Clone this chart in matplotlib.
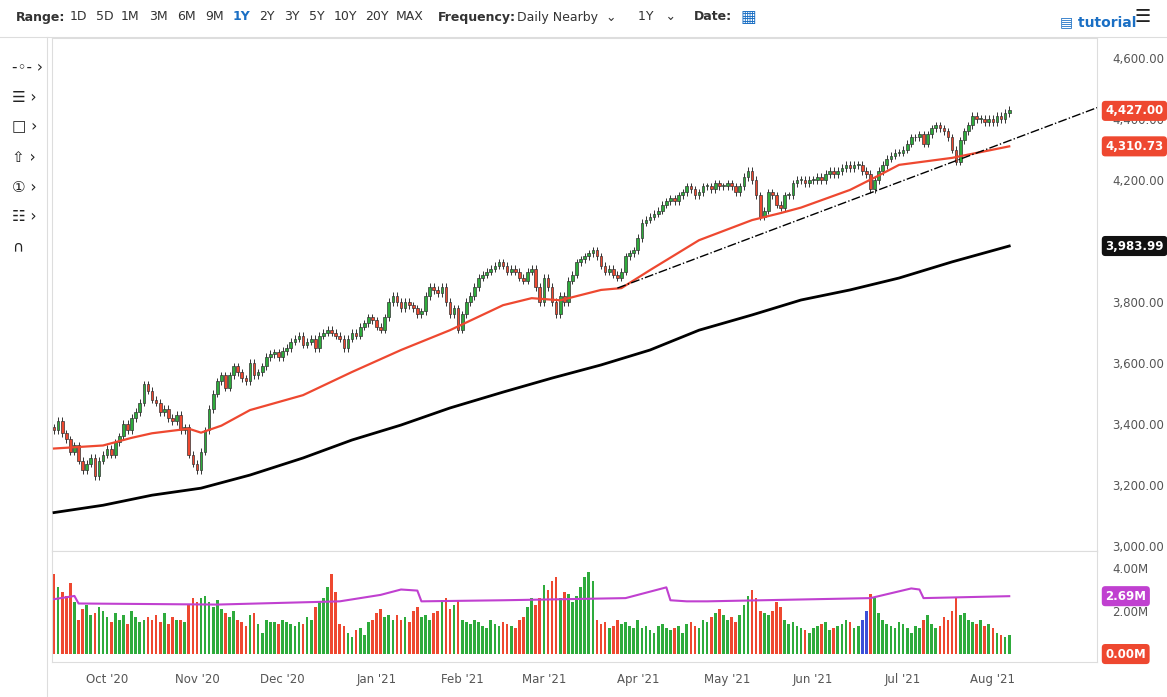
import matplotlib.pyplot as plt
import numpy as np
import pandas as pd

# daily closes per month
close_by_month = {
    "2020-09": [3380, 3410, 3370, 3350, 3310, 3330, 3280, 3250, 3270, 3290, 3230, 3280, 3300],
    "2020-10": [3320, 3300, 3340, 3360, 3400, 3380, 3420, 3440, 3470, 3530, 3510, 3480, 3470, 3440,
                3450, 3420, 3410, 3430, 3380, 3390, 3300, 3270],
    "2020-11": [3250, 3310, 3380, 3450, 3500, 3540, 3560, 3520, 3560, 3590, 3570, 3550, 3540, 3600,
                3560, 3570, 3590, 3620, 3630, 3635, 3620],
    "2020-12": [3640, 3650, 3670, 3680, 3690, 3660, 3670, 3680, 3650, 3690, 3700, 3710, 3700, 3690,
                3680, 3650, 3680, 3700, 3690, 3720, 3730, 3750, 3740],
    "2021-01": [3720, 3710, 3750, 3800, 3820, 3800, 3780, 3800, 3790, 3780, 3760, 3770, 3820, 3850,
                3840, 3830, 3850, 3800, 3760, 3780, 3710],
    "2021-02": [3760, 3800, 3820, 3850, 3880, 3890, 3900, 3910, 3920, 3930, 3920, 3900, 3910, 3900,
                3880, 3870, 3900, 3910, 3850, 3800],
    "2021-03": [3880, 3850, 3800, 3760, 3820, 3800, 3870, 3890, 3930, 3940, 3950, 3960, 3970, 3950,
                3920, 3900, 3910, 3890, 3880, 3900, 3950, 3960, 3970],
    "2021-04": [4010, 4060, 4070, 4080, 4090, 4100, 4120, 4130, 4140, 4130, 4150, 4160, 4180, 4170,
                4150, 4160, 4180, 4180, 4170, 4190, 4180, 4180],
    "2021-05": [4190, 4180, 4160, 4180, 4210, 4230, 4200, 4150, 4080, 4100, 4160, 4150, 4120, 4110,
                4150, 4150, 4190, 4200, 4200, 4190, 4200],
    "2021-06": [4200, 4210, 4200, 4220, 4230, 4220, 4230, 4240, 4250, 4240, 4250, 4250, 4230, 4220,
                4170, 4200, 4230, 4250, 4270, 4280, 4290, 4290],
    "2021-07": [4300, 4320, 4340, 4340, 4350, 4320, 4350, 4370, 4380, 4370, 4360, 4340, 4300, 4260,
                4330, 4360, 4380, 4410, 4400, 4400, 4390, 4400],
    "2021-08": [4390, 4410, 4400, 4420, 4430],
}

# daily volume in millions
volume_by_month = {
    "2020-09": [3.7, 3.1, 2.9, 2.7, 3.3, 2.4, 1.6, 2.1, 2.3, 1.8, 1.9, 2.2, 2.0],
    "2020-10": [1.7, 1.5, 1.9, 1.6, 1.8, 1.4, 2.0, 1.7, 1.5, 1.6, 1.7, 1.6, 1.8, 1.5, 1.9, 1.4, 1.7,
                1.6, 1.6, 1.5, 2.3, 2.6],
    "2020-11": [2.4, 2.6, 2.7, 2.4, 2.2, 2.5, 2.1, 1.9, 1.7, 2.0, 1.6, 1.5, 1.3, 1.8, 1.9, 1.4, 1.0,
                1.6, 1.5, 1.5, 1.4],
    "2020-12": [1.6, 1.5, 1.4, 1.3, 1.5, 1.4, 1.7, 1.6, 2.2, 2.4, 2.6, 3.1, 3.7, 2.9, 1.4, 1.3, 1.0,
                0.8, 1.1, 1.2, 0.9, 1.5, 1.6],
    "2021-01": [1.9, 2.1, 1.7, 1.8, 1.6, 1.8, 1.6, 1.7, 1.5, 2.0, 2.2, 1.7, 1.8, 1.6, 1.9, 2.0, 2.5,
                2.6, 2.1, 2.3, 2.5],
    "2021-02": [1.6, 1.5, 1.4, 1.6, 1.5, 1.3, 1.2, 1.6, 1.4, 1.3, 1.5, 1.4, 1.3, 1.2, 1.6, 1.7, 2.2,
                2.6, 2.3, 2.6],
    "2021-03": [3.2, 3.0, 3.4, 3.6, 2.6, 2.9, 2.8, 2.4, 2.7, 3.1, 3.6, 3.8, 3.4, 1.6, 1.4, 1.5, 1.2,
                1.3, 1.6, 1.4, 1.5, 1.3, 1.2],
    "2021-04": [1.6, 1.2, 1.3, 1.1, 1.0, 1.3, 1.4, 1.2, 1.1, 1.2, 1.3, 1.0, 1.4, 1.5, 1.3, 1.2, 1.6,
                1.5, 1.7, 1.9, 2.1, 1.8],
    "2021-05": [1.6, 1.7, 1.5, 1.8, 2.3, 2.7, 3.0, 2.6, 2.0, 1.9, 1.8, 2.0, 2.4, 2.2, 1.6, 1.4, 1.5,
                1.3, 1.2, 1.1, 1.0],
    "2021-06": [1.2, 1.3, 1.4, 1.5, 1.1, 1.2, 1.3, 1.4, 1.6, 1.5, 1.2, 1.3, 1.6, 2.0, 2.8, 2.6, 1.9,
                1.6, 1.4, 1.3, 1.2, 1.5],
    "2021-07": [1.4, 1.2, 1.0, 1.3, 1.2, 1.6, 1.8, 1.4, 1.2, 1.3, 1.7, 1.6, 2.0, 2.6, 1.8, 1.9, 1.6,
                1.5, 1.4, 1.6, 1.3, 1.4],
    "2021-08": [1.2, 1.0, 0.9, 0.8, 0.9],
}
blue_days = ["2021-06-17", "2021-06-18"]

# moving averages, sampled at bar indices
ma50_idx = [0, 12, 19, 24, 33, 36, 41, 48, 61, 73, 85, 97, 110, 117, 124, 134, 139, 146, 158,
            171, 178, 183, 195, 202, 207, 220, 234]
ma50_val = [3320, 3330, 3355, 3370, 3385, 3372, 3395, 3446, 3495, 3571, 3643, 3708, 3790, 3813,
            3806, 3840, 3846, 3905, 4003, 4069, 4092, 4110, 4168, 4215, 4250, 4273, 4310.73]
ma200_idx = [0, 12, 24, 36, 48, 61, 73, 85, 97, 110, 122, 134, 146, 158, 171, 183, 195, 207,
             220, 234]
ma200_val = [3110, 3134, 3167, 3190, 3233, 3289, 3348, 3397, 3453, 3505, 3551, 3594, 3643, 3708,
             3758, 3807, 3840, 3879, 3932, 3983.99]
trend_idx = [138, 256]
trend_val = [3846, 4440]
vma_idx = [0, 5, 6, 40, 70, 80, 85, 89, 90, 110, 140, 150, 151, 155, 160, 200, 210, 212, 213, 234]
vma_val = [2.55, 2.7, 2.35, 2.3, 2.45, 2.75, 3.0, 2.95, 2.45, 2.5, 2.6, 3.1, 2.5, 2.45, 2.45,
           2.6, 3.05, 3.0, 2.6, 2.69]

dates, closes, volumes = [], [], []
for month, vals in close_by_month.items():
    start = pd.Timestamp(month + "-01")
    if month == "2020-09":
        start = pd.Timestamp("2020-09-14")
    days = pd.bdate_range(start, periods=len(vals))
    dates += list(days)
    closes += vals
    volumes += volume_by_month[month]
closes = np.array(closes, dtype=float)
volumes = np.array(volumes)
opens = np.concatenate([[closes[0] + 10], closes[:-1]])
n = len(closes)
x = np.arange(n)

GREEN, RED = "#2eab3c", "#ee4830"

fig = plt.figure(figsize=(11.67, 6.97), dpi=100)
ax = fig.add_axes([52 / 1167, 1 - 551 / 697, 1045 / 1167, 513 / 697])
axv = fig.add_axes([52 / 1167, 1 - 662 / 697, 1045 / 1167, 111 / 697], sharex=ax)

up = closes >= opens
hi = np.maximum(opens, closes) + 12
lo = np.minimum(opens, closes) - 12
ax.vlines(x, lo, hi, color="#333333", lw=0.7, zorder=2)
body = np.abs(closes - opens)
body = np.where(body < 3, 3, body)
ax.bar(x, body, bottom=np.minimum(opens, closes), width=0.65,
       color=np.where(up, GREEN, RED), edgecolor="#333333", linewidth=0.5, zorder=3)
ax.plot(ma50_idx, ma50_val, color="#ee4830", lw=1.6, zorder=4)
ax.plot(ma200_idx, ma200_val, color="black", lw=2, zorder=4)
ax.plot(trend_idx, trend_val, color="black", lw=1, ls="-.", zorder=4)

ax.set_xlim(-0.5, 255.5)
ax.set_ylim(2984, 4666)
ax.yaxis.tick_right()
ax.set_yticks(np.arange(3000, 4601, 200))
ax.set_yticklabels([f"{v:,.2f}" for v in np.arange(3000, 4601, 200)])
ax.tick_params(axis="y", length=0, pad=11, labelsize=8.5, colors="#555555")
ax.tick_params(axis="x", length=0, labelbottom=False)

vcol = [("#3b4fd8" if str(d.date()) in blue_days else (GREEN if u else RED))
        for d, u in zip(dates, up)]
axv.bar(x, volumes, width=0.65, color=vcol)
axv.plot(vma_idx, vma_val, color="#c040d0", lw=1.5)
axv.set_ylim(-0.37, 4.79)
axv.yaxis.tick_right()
axv.set_yticks([2, 4])
axv.set_yticklabels(["2.00M", "4.00M"])
axv.tick_params(axis="y", length=0, pad=11, labelsize=8.5, colors="#555555")

month_pos, month_lab = [], []
for i in range(1, n):
    if dates[i].month != dates[i - 1].month:
        month_pos.append(i)
        month_lab.append(dates[i].strftime("%b '%y"))
axv.set_xticks(month_pos)
axv.set_xticklabels(month_lab)
axv.tick_params(axis="x", length=0, pad=8, labelsize=8.5, colors="#555555")

for a in (ax, axv):
    for s in a.spines.values():
        s.set_color("#dddddd")


def tag(a, y, text, color):
    a.annotate(text, xy=(1, y), xycoords=("axes fraction", "data"), xytext=(6, 0),
               textcoords="offset points", va="center", ha="left", fontsize=8.5,
               fontweight="bold", color="white",
               bbox=dict(boxstyle="round,pad=0.3", fc=color, ec="none"))


tag(ax, 4427, "4,427.00", "#ee4830")
tag(ax, 4310.73, "4,310.73", "#ee4830")
tag(ax, 3983.99, "3,983.99", "#111111")
tag(axv, 2.69, "2.69M", "#c040d0")
tag(axv, 0, "0.00M", "#ee4830")

# toolbar
ty = 1 - 17 / 697
fig.text(16 / 1167, ty, "Range:", fontsize=9, fontweight="bold", va="center", color="#333")
ranges = ["1D", "5D", "1M", "3M", "6M", "9M", "1Y", "2Y", "3Y", "5Y", "10Y", "20Y", "MAX"]
rx = [70, 96, 121, 149, 177, 205, 233, 259, 284, 309, 334, 365, 396]
for r, px in zip(ranges, rx):
    fig.text(px / 1167, ty, r, fontsize=9, va="center",
             color="#1a6fc4" if r == "1Y" else "#333", fontweight="bold" if r == "1Y" else "normal")
fig.text(438 / 1167, ty, "Frequency:", fontsize=9, fontweight="bold", va="center", color="#333")
fig.text(517 / 1167, ty, "Daily Nearby  \u2304", fontsize=9, va="center", color="#333")
fig.text(638 / 1167, ty, "1Y   \u2304", fontsize=9, va="center", color="#333")
fig.text(694 / 1167, ty, "Date:", fontsize=9, fontweight="bold", va="center", color="#333")
fig.text(740 / 1167, ty, "\u25a6", fontsize=12, va="center", color="#1a6fc4")
fig.text(1060 / 1167, 1 - 22 / 697, "\u25a4 tutorial", fontsize=10, fontweight="bold",
         va="center", color="#1a6fc4")
fig.text(1135 / 1167, 1 - 17 / 697, "\u2630", fontsize=13, va="center", color="#222")
fig.add_artist(plt.Line2D([0, 1], [1 - 37 / 697] * 2, color="#dddddd", lw=0.8))
fig.add_artist(plt.Line2D([47 / 1167] * 2, [0, 1 - 37 / 697], color="#dddddd", lw=0.8))
for k, sym in enumerate(["-\u25e6- \u203a", "\u2630 \u203a", "\u25a1 \u203a", "\u21e7 \u203a",
                         "\u2460 \u203a", "\u2637 \u203a", "\u2229"]):
    fig.text(12 / 1167, 1 - (67 + 30 * k) / 697, sym, fontsize=11, va="center", color="#222")

fig.savefig("out.png", dpi=100)
